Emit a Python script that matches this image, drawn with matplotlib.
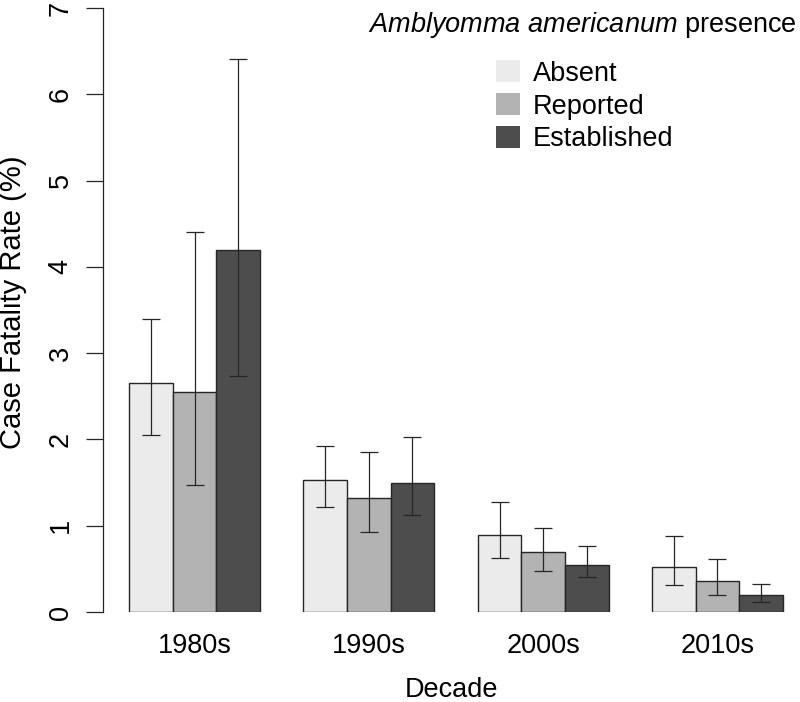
import matplotlib
matplotlib.use("Agg")
import matplotlib.pyplot as plt
from matplotlib.patches import Patch

plt.rcParams["font.family"] = ["Liberation Sans", "DejaVu Sans"]
plt.rcParams["mathtext.fontset"] = "custom"
plt.rcParams["mathtext.it"] = "Liberation Sans:italic"
plt.rcParams["mathtext.rm"] = "Liberation Sans"

decades = ["1980s", "1990s", "2000s", "2010s"]
groups = ["Absent", "Reported", "Established"]
colors = ["#ebebeb", "#b3b3b3", "#4d4d4d"]

# case fatality rate (%) per group, one value per decade
rate = {
    "Absent":      [2.65, 1.53, 0.89, 0.52],
    "Reported":    [2.55, 1.32, 0.69, 0.36],
    "Established": [4.19, 1.50, 0.55, 0.20],
}
lower = {
    "Absent":      [2.05, 1.22, 0.63, 0.31],
    "Reported":    [1.47, 0.93, 0.48, 0.20],
    "Established": [2.73, 1.12, 0.40, 0.12],
}
upper = {
    "Absent":      [3.40, 1.92, 1.27, 0.88],
    "Reported":    [4.40, 1.86, 0.97, 0.62],
    "Established": [6.41, 2.03, 0.77, 0.33],
}

fig = plt.figure(figsize=(8, 7.02), dpi=100)
ax = fig.add_axes([103 / 800, 90 / 702, (809 - 103) / 800, (612 - 8) / 702])

line_col = "#262626"
for i, g in enumerate(groups):
    xs = [1 + 4 * d + i + 0.5 for d in range(len(decades))]
    ax.bar(xs, rate[g], width=1, color=colors[i], edgecolor=line_col, linewidth=1)
    yerr = [[r - lo for r, lo in zip(rate[g], lower[g])],
            [up - r for r, up in zip(rate[g], upper[g])]]
    ax.errorbar(xs, rate[g], yerr=yerr, fmt="none", ecolor=line_col,
                elinewidth=0.9, capsize=6.5, capthick=0.9)

ax.set_xlim(0.4, 16.6)
ax.set_ylim(0, 7)
for s in ["top", "right", "bottom"]:
    ax.spines[s].set_visible(False)
ax.spines["left"].set_color(line_col)
ax.spines["left"].set_linewidth(0.9)

ax.set_yticks(range(8))
ax.set_yticklabels([str(v) for v in range(8)], rotation=90, va="center")
ax.tick_params(axis="y", length=12, width=0.9, color=line_col, pad=9,
               labelsize=19.5)
ax.set_xticks([1 + 4 * d + 1.5 for d in range(len(decades))])
ax.set_xticklabels(decades)
ax.tick_params(axis="x", length=0, pad=15, labelsize=19.5)

fig.text(452 / 800, 1 - 690 / 702, "Decade", ha="center", va="center",
         fontsize=19.5)
fig.text(13 / 800, 1 - 302 / 702, "Case Fatality Rate (%)", ha="center",
         va="center", rotation=90, fontsize=21)

fig.text(797 / 800, 1 - 25 / 702, r"$\mathit{Amblyomma\ americanum}$ presence",
         ha="right", va="center", fontsize=19.5)
handles = [Patch(facecolor=c, edgecolor="none") for c in colors]
fig.legend(handles, groups, loc="upper left",
           bbox_to_anchor=(496 / 800, 1 - 60 / 702), frameon=False,
           fontsize=19.5, handlelength=0.9, handleheight=0.9,
           handletextpad=0.45, labelspacing=0.235, borderpad=0,
           borderaxespad=0)

fig.savefig("out.png", dpi=100)
